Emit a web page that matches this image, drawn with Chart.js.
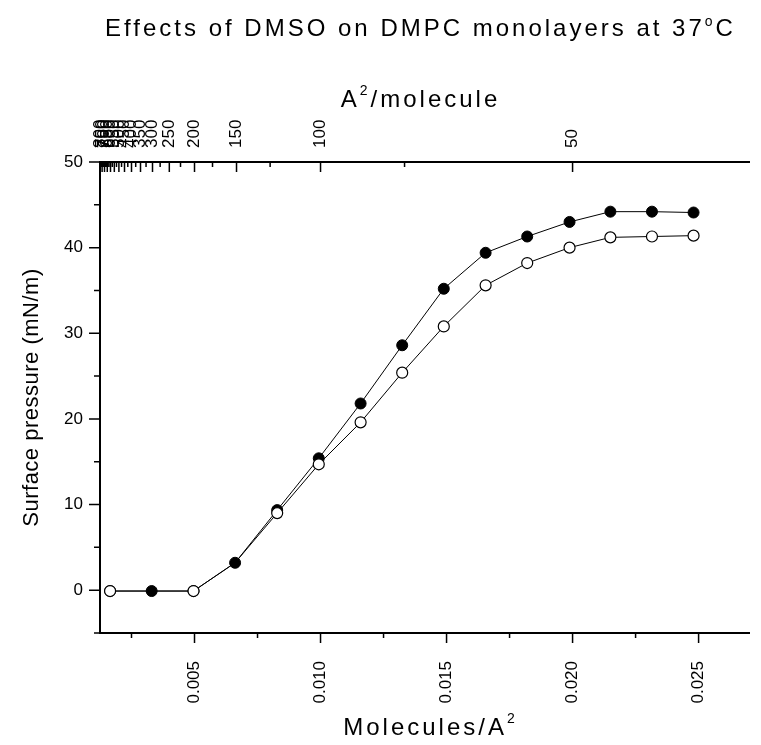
<!DOCTYPE html>
<html><head><meta charset="utf-8">
<script src="https://cdn.jsdelivr.net/npm/chart.js@4/dist/chart.umd.min.js"></script>
<style>html,body{margin:0;padding:0;background:#fff;} canvas{display:block;}</style>
</head><body>
<canvas id="c" width="761" height="745"></canvas>
<script>
// ---- data ----
const moleculesPerA2 = [0.00165, 0.00330, 0.00496, 0.00661, 0.00828, 0.00993, 0.01159, 0.01324, 0.01489, 0.01655, 0.01820, 0.01988, 0.02150, 0.02315, 0.02480];
const pressureDMSO    = [-0.1, -0.1, -0.1, 3.2, 9.35, 15.4, 21.8, 28.6, 35.2, 39.4, 41.3, 43.0, 44.2, 44.2, 44.1];
const pressureControl = [-0.1, -0.1, -0.1, 3.2, 9.0, 14.7, 19.6, 25.4, 30.8, 35.6, 38.2, 40.0, 41.2, 41.3, 41.4];
const bottomTickValues = [0.0025, 0.005, 0.0075, 0.01, 0.0125, 0.015, 0.0175, 0.02, 0.0225, 0.025];
const topTickAreas = [50, 75, 100, 125, 150, 175, 200, 225, 250, 275, 300, 325, 350, 375, 400, 425, 450, 475, 500, 525, 550, 575, 600, 625, 650, 675, 700, 725, 750, 775, 800];
const yTickValues = [-5, 0, 5, 10, 15, 20, 25, 30, 35, 40, 45, 50];
const titleText = 'Effects of DMSO on DMPC monolayers at 37';

const FONT = '"Liberation Sans", Arial, sans-serif';
const tickFont = { family: FONT, size: 17, lineHeight: 1.2 };

const isMajorX = v => Math.round(v * 10000) % 50 === 0;
const areaOf = v => Math.round(1 / v);

const xMin = 0.00125, xMax = 0.027;

const decorPlugin = {
  id: 'decor',
  afterDraw(chart) {
    const ctx = chart.ctx;
    const { x, x2, y } = chart.scales;
    const a = chart.chartArea;
    ctx.save();
    ctx.strokeStyle = '#000';
    ctx.lineWidth = 1.5;
    ctx.beginPath();
    // bottom ticks (outward)
    x.ticks.forEach(t => {
      const px = x.getPixelForValue(t.value);
      ctx.moveTo(px, a.bottom); ctx.lineTo(px, a.bottom + (isMajorX(t.value) ? 10 : 5));
    });
    // left ticks (outward)
    y.ticks.forEach(t => {
      const py = y.getPixelForValue(t.value);
      ctx.moveTo(a.left, py); ctx.lineTo(a.left - (t.value % 10 === 0 ? 11 : 6), py);
    });
    // top ticks (inward)
    x2.ticks.forEach(t => {
      const px = x2.getPixelForValue(t.value);
      const n = areaOf(t.value);
      ctx.moveTo(px, a.top); ctx.lineTo(px, a.top + (n % 50 === 0 ? 10 : 5));
    });
    ctx.stroke();

    // texts
    ctx.fillStyle = '#000';
    const drawRich = (parts, cx, by, spacing) => {
      ctx.letterSpacing = spacing + 'px';
      let total = 0;
      parts.forEach(p => { ctx.font = p.size + 'px ' + FONT; p.w = ctx.measureText(p.t).width; total += p.w; });
      let cur = cx - total / 2;
      ctx.textAlign = 'left'; ctx.textBaseline = 'alphabetic';
      parts.forEach(p => { ctx.font = p.size + 'px ' + FONT; ctx.fillText(p.t, cur, by - (p.rise || 0)); cur += p.w; });
    };
    const cx = (a.left + a.right) / 2;
    drawRich([{ t: titleText, size: 24 }, { t: 'o', size: 14, rise: 10 }, { t: 'C', size: 24 }], cx - 4, 36, 3);
    drawRich([{ t: 'A', size: 24 }, { t: '2', size: 14, rise: 12 }, { t: '/molecule', size: 24 }], cx - 4, 107, 3);
    drawRich([{ t: 'Molecules/A', size: 24 }, { t: '2', size: 14, rise: 12 }], cx + 6, 735, 3);
    ctx.save();
    ctx.translate(38, (a.top + a.bottom) / 2);
    ctx.rotate(-Math.PI / 2);
    drawRich([{ t: 'Surface pressure (mN/m)', size: 22 }], 0, 0, 0.5);
    ctx.restore();
    ctx.restore();
  }
};

new Chart(document.getElementById('c'), {
  type: 'line',
  data: {
    datasets: [
      {
        label: 'DMPC',
        data: moleculesPerA2.map((v, i) => ({ x: v, y: pressureControl[i] })),
        borderColor: '#000', borderWidth: 1, backgroundColor: '#fff',
        pointBackgroundColor: '#fff', pointBorderColor: '#000', pointBorderWidth: 1.2,
        pointRadius: c => (c.dataIndex === 1 || c.dataIndex === 3) ? 0 : 5.5,
        tension: 0, fill: false
      },
      {
        label: 'DMPC + DMSO',
        data: moleculesPerA2.map((v, i) => ({ x: v, y: pressureDMSO[i] })),
        borderColor: '#000', borderWidth: 1, backgroundColor: '#000',
        pointBackgroundColor: '#000', pointBorderColor: '#000', pointBorderWidth: 1,
        pointRadius: 5.5, tension: 0, fill: false
      }
    ]
  },
  options: {
    responsive: false, animation: false, devicePixelRatio: 1,
    layout: { padding: { left: 0, right: 12, top: 0, bottom: 0 } },
    plugins: { legend: { display: false }, title: { display: false }, tooltip: { enabled: false } },
    scales: {
      x: {
        type: 'linear', position: 'bottom', min: xMin, max: xMax,
        grid: { display: false, drawTicks: false },
        border: { display: true, color: '#000', width: 2 },
        afterBuildTicks: s => { s.ticks = bottomTickValues.map(v => ({ value: v })); },
        afterFit: s => { s.height = 112; },
        ticks: {
          autoSkip: false, minRotation: 90, maxRotation: 90, padding: 28, color: '#000', font: tickFont,
          callback: v => isMajorX(v) ? v.toFixed(3) : ''
        }
      },
      x2: {
        type: 'linear', position: 'top', min: xMin, max: xMax,
        grid: { display: false, drawTicks: false },
        border: { display: true, color: '#000', width: 2 },
        afterBuildTicks: s => { s.ticks = topTickAreas.slice().reverse().map(n => ({ value: 1 / n })); },
        afterFit: s => { s.height = 162; },
        ticks: {
          autoSkip: false, minRotation: 90, maxRotation: 90, padding: 14, labelOffset: 20.4, color: '#000', font: tickFont,
          callback: v => { const n = areaOf(v); return n % 50 === 0 ? String(n) : ''; }
        }
      },
      y: {
        type: 'linear', position: 'left', min: -5, max: 50,
        grid: { display: false, drawTicks: false },
        border: { display: true, color: '#000', width: 2 },
        afterBuildTicks: s => { s.ticks = yTickValues.map(v => ({ value: v })); },
        afterFit: s => { s.width = 100; },
        ticks: {
          autoSkip: false, padding: 17, color: '#000', font: tickFont,
          callback: v => v % 10 === 0 ? String(v) : ''
        }
      }
    }
  },
  plugins: [decorPlugin]
});
</script>
</body></html>
